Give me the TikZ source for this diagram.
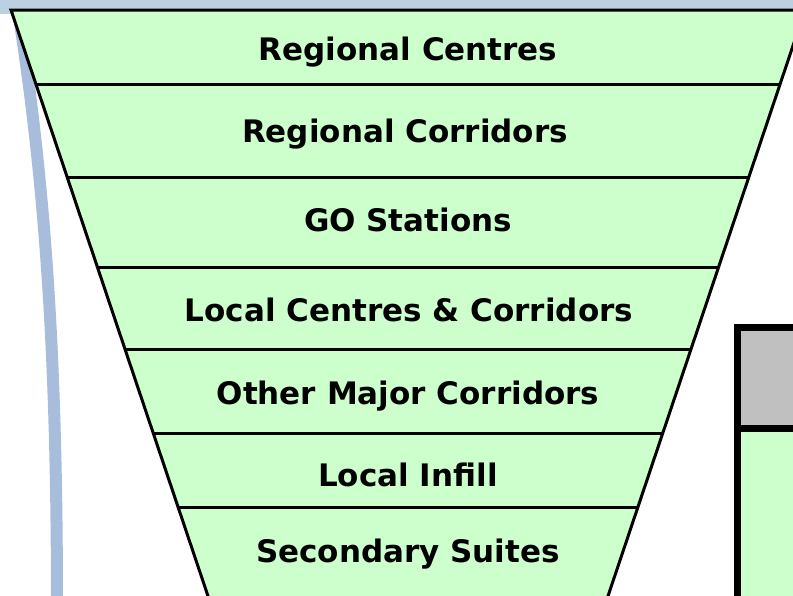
\documentclass[tikz,border=0pt]{standalone}
\usepackage{fontspec}
\setmainfont{DejaVu Sans}
\usetikzlibrary{calc}
\definecolor{funnelgreen}{HTML}{CCFFCC}
\definecolor{bandblue}{HTML}{BCD0E4}
\definecolor{curveblue}{HTML}{A8BCDC}
\definecolor{headgray}{HTML}{C0C0C0}
\begin{document}
\begin{tikzpicture}[x=1pt,y=-1pt,
  lbl/.style={font={\fontsize{31}{37}\selectfont\bfseries},anchor=base},
  rule/.style={line width=3pt},
  frame/.style={line width=7pt}]
\useasboundingbox (0,0) rectangle (793,595);
\clip (0,0) rectangle (793,595);
\fill[bandblue] (0,0) rectangle (793,14);
\draw[curveblue,line width=12pt] (18,10) .. controls (48,200) and (57,380) .. (57,610);
\draw[rule,fill=funnelgreen] (11,10) coordinate (tl) -- (805,10) coordinate (tr)
  -- (606,602) coordinate (br) -- (210,602) coordinate (bl) -- cycle;
\foreach \y in {85,177,267,350,433,508}
  \draw[rule] ($(tl)!{(\y-10)/592}!(bl)$) -- ($(tr)!{(\y-10)/592}!(br)$);
\node[lbl] (regcen) at (408,60) {Regional Centres};
\node[lbl] (regcor) at (405,142) {Regional Corridors};
\node[lbl] (gost) at (408,231) {GO Stations};
\node[lbl] (loccen) at (409,321) {Local Centres \& Corridors};
\node[lbl] (othmaj) at (408,404) {Other Major Corridors};
\node[lbl] (locinf) at (408,486) {Local Infill};
\node[lbl] (secsui) at (408,562) {Secondary Suites};
\draw[frame,fill=funnelgreen] (737,327) rectangle (830,640);
\draw[frame,fill=headgray] (737,327) rectangle (830,428);
\end{tikzpicture}
\end{document}
